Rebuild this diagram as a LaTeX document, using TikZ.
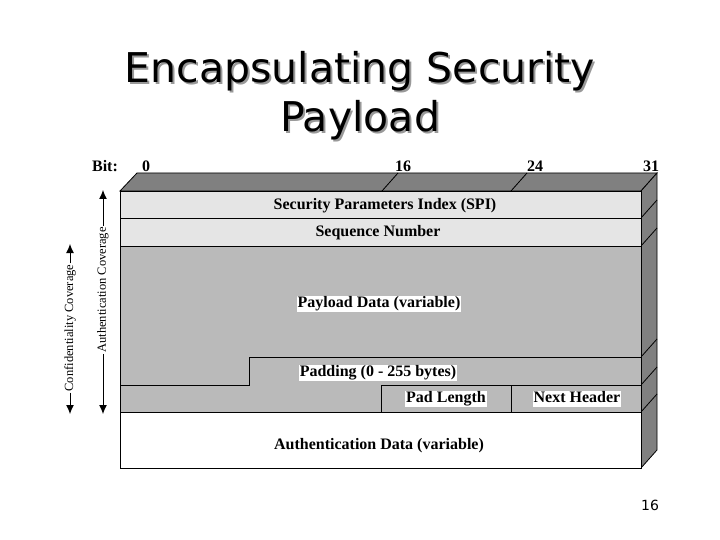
\documentclass[tikz,border=0pt]{standalone}
\usepackage{fontspec}
\setmainfont{Liberation Serif}
\newfontfamily\ttl{DejaVu Sans}
\newcommand{\shd}[1]{\rlap{\hspace{2pt}\raisebox{-2pt}{\color{black!40}#1}}#1}
\begin{document}
\begin{tikzpicture}[x=1pt,y=-1pt,
 lab/.style={font=\bfseries\fontsize{16}{18}\selectfont,inner sep=1pt,text height=11pt,text depth=3.5pt},
 wlab/.style={lab,fill=white},
 cov/.style={font=\fontsize{12.5}{14}\selectfont,rotate=90,fill=white,inner sep=1pt},
 cell/.style={draw,line width=0.8pt},
 arr/.style={-{Latex[length=9pt,width=8pt]},line width=1pt},
 side/.style={draw,line width=0.8pt,fill=black!50}]
\usetikzlibrary{arrows.meta}
\useasboundingbox (0,0) rectangle (720,540);
\node[font=\ttl\fontsize{41}{46}\selectfont] (t1) at (360,72) {\shd{Encapsulating Security}};
\node[font=\ttl\fontsize{41}{46}\selectfont] (t2) at (360,121) {\shd{Payload}};
% top and side
\draw[side] (120,191) -- (137,173) -- (657,173) -- (641,191) -- cycle;
\draw[side] (641,191) -- (657,173) -- (657,450) -- (641,468) -- cycle;
\draw[line width=0.8pt] (382,191)--(398,173) (511,191)--(527,173);
\foreach \y in {218,246,357,385,412} \draw[line width=0.8pt] (641,\y)--(657,\y-18);
% cells
\draw[cell,fill=black!10] (120,191) rectangle (641,218);
\draw[cell,fill=black!10] (120,218) rectangle (641,246);
\draw[cell,fill=black!27] (120,246) -- (641,246) -- (641,412) -- (120,412) -- cycle;
\draw[cell] (120,385) -- (249,385) -- (249,357) -- (641,357);
\draw[cell] (381,412) -- (381,385) -- (641,385);
\draw[cell] (511,385) -- (511,412);
\draw[cell,fill=white] (120,412) rectangle (641,468);
\node[lab] (spi) at (385,206) {Security Parameters Index (SPI)};
\node[lab] (seq) at (378,233) {Sequence Number};
\node[wlab] (pay) at (379,304) {Payload Data (variable)};
\node[wlab] (pad) at (378,373) {Padding (0 - 255 bytes)};
\node[wlab] (pl) at (446,399) {Pad Length};
\node[wlab] (nh) at (577,399) {Next Header};
\node[lab] (ad) at (379,446) {Authentication Data (variable)};
% bits
\node[lab] (bit) at (105,168) {Bit:};
\node[lab] at (146,168) {0};
\node[lab] at (403,168) {16};
\node[lab] at (535,168) {24};
\node[lab] at (651,168) {31};
% coverage
\node[cov] (ac) at (103,290) {Authentication Coverage};
\node[cov] (cc) at (70,328) {Confidentiality Coverage};
\coordinate (a1) at (103,190); \coordinate (a2) at (103,414);
\coordinate (c1) at (70,244); \coordinate (c2) at (70,414);
\draw[arr] (ac.east) -- (a1);
\draw[arr] (ac.west) -- (a2);
\draw[arr] (cc.east) -- (c1);
\draw[arr] (cc.west) -- (c2);
\node[font=\ttl\fontsize{14}{16}\selectfont] (pg) at (650,505) {16};
\end{tikzpicture}
\end{document}
